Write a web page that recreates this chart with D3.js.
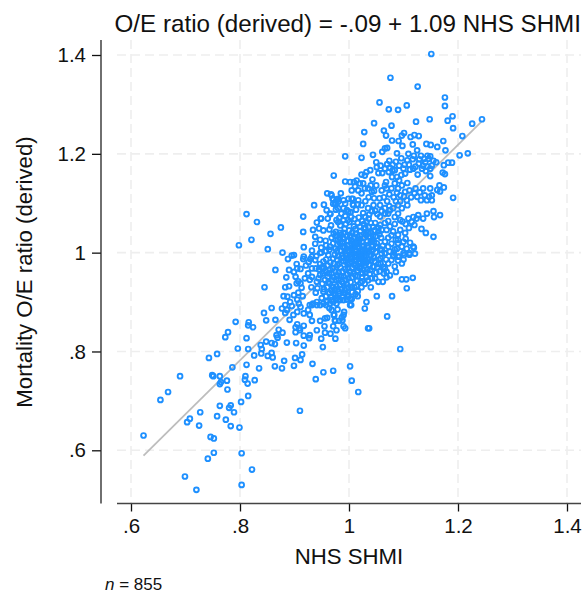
<!DOCTYPE html>
<html>
<head>
<meta charset="utf-8">
<script src="https://cdn.jsdelivr.net/npm/d3@7"></script>
<style>
  html, body { margin: 0; padding: 0; background: #fff; }
  svg { display: block; font-family: "Liberation Sans", Arial, sans-serif; }
</style>
</head>
<body>
<svg id="vis" width="583" height="595"></svg>
<script>
// values: [NHS SHMI, O/E ratio]
const lowTail = [[.623,.63],[.654,.702],[.668,.718],[.690,.750],[.699,.547],[.720,.520],[.703,.657],[.708,.664],[.725,.650],[.727,.677],[.741,.583],[.752,.595],[.746,.627],[.752,.624],[.743,.787],[.758,.795],[.749,.752],[.751,.750],[.763,.750],[.765,.738],[.763,.734],[.776,.741],[.777,.723],[.763,.690],[.758,.669],[.774,.662],[.783,.649],[.780,.686],[.783,.691],[.789,.677],[.799,.646],[.802,.698],[.815,.710],[.803,.594],[.822,.561],[.803,.530],[.786,.768],[.773,.829],[.778,.839],[.792,.860],[.796,.806],[.812,.827],[.815,.805],[.815,.853],[.816,.859],[.824,.849],[.812,.773],[.810,.750],[.809,.743],[.814,.735],[.827,.742],[.835,.766]];

const lowBand = [[.826,.792],[.838,.813],[.840,.805],[.839,.796],[.851,.791],[.858,.797],[.860,.788],[.864,.770],[.877,.766],[.881,.781],[.899,.771],[.901,.787],[.911,.783],[.914,.794],[.933,.775],[.953,.758],[.971,.761],[.939,.744],[.910,.680],[.848,.820],[.858,.817],[.864,.815],[.869,.828],[.871,.844],[.878,.838],[.867,.833],[.886,.818],[.903,.817],[.917,.812],[.927,.827],[.928,.833],[.949,.826],[.952,.809],[.975,.826],[.844,.878],[.848,.863],[.865,.864],[.858,.888],[.891,.864],[.845,.930],[.865,.965],[1.002,.770],[1.005,.741],[1.017,.718],[1.037,.847],[1.094,.805],[1.070,.871],[1.079,.912],[1.051,.912]];

const leftStrays = [[.851,1.007],[.878,1.000],[.798,1.015],[.821,1.026],[.856,1.038],[.875,1.051],[.812,1.078],[.831,1.062],[.916,1.073],[.916,1.042],[.917,1.011],[.934,1.046],[.936,1.096],[.954,1.097],[.960,1.120],[.967,1.118],[.972,1.156],[.941,1.061],[.949,1.069],[.961,1.069],[.966,1.078],[.945,1.049],[.953,1.045],[.964,1.047],[.938,1.032],[.947,1.026],[.957,1.024],[.975,1.097],[.970,1.109],[.978,1.108],[.976,1.087],[.967,1.055],[.977,1.066],[.975,1.034],[.976,1.042],[.985,1.120],[1.032,1.163],[.959,1.086],[.965,1.079],[.948,1.069],[.938,1.018],[.932,1.004],[.947,.999],[.964,1.006],[.975,1.008],[.980,1.062],[.990,1.066],[.986,1.079],[.990,1.090],[.980,1.090],[.975,1.100],[.971,1.108],[.980,1.109],[.990,1.106],[.999,1.109],[1.007,1.109],[1.008,1.096],[.999,1.083]];

const midLeft = [[.895,.994],[.888,.987],[.899,.995],[.917,.992],[.916,.987],[.932,.992],[.929,.987],[.904,.977],[.890,.965],[.899,.961],[.911,.967],[.905,.968],[.885,.950],[.883,.930],[.890,.932],[.902,.951],[.907,.942],[.911,.938],[.904,.938],[.913,.929],[.899,.914],[.915,.912],[.907,.919],[.880,.912],[.887,.911],[.892,.900],[.905,.905],[.883,.894],[.877,.887],[.886,.884],[.883,.878],[.908,.897],[.911,.890],[.895,.892],[.898,.874],[.905,.880],[.917,.877],[.925,.884],[.932,.894],[.941,.900],[.928,.874],[.932,.862],[.905,.855],[.902,.849],[.909,.847],[.917,.852],[.902,.839],[.917,.832],[.910,.843],[.932,.951],[.941,.941],[.931,.930],[.939,.919],[.953,.921],[.919,.948],[.928,.945],[.932,.968],[.939,.968],[.947,.862],[.941,.843],[.955,.851],[.956,.867],[.960,.868],[.971,.851],[.966,.836],[.977,.843],[.956,.838],[.975,.862],[.982,.862],[.928,.894],[.934,.897],[.941,.894],[.947,.894],[.953,.897],[.959,.900],[.965,.897],[.971,.900],[.977,.897],[.984,.904],[.990,.904],[.991,.880],[.987,.869],[.993,.847],[.990,.851],[.972,.874],[1.032,.900],[1.029,.887],[1.035,.847],[1.002,.907],[.997,.914],[1.004,.894],[.996,.927],[1.016,.922],[1.023,.930],[1.029,.937],[1.035,.944],[1.002,.894],[1.005,.906],[.996,.905],[.999,.911],[.990,.874],[.988,.863],[.973,.874],[.974,.863],[.983,.917],[.980,.904],[.979,.885],[.968,.884]];

const midRight = [[1.106,.928],[1.097,.946],[1.105,.946],[1.117,.949],[1.086,.961],[1.075,.954],[1.069,.950],[1.064,.958],[1.062,.941],[1.054,.941],[1.048,.948],[1.042,.948],[1.040,.930],[1.069,.961],[1.063,.971],[1.072,.978],[1.078,.985],[1.097,.978],[1.100,.986],[1.081,.995],[1.092,.992],[1.101,.995],[1.111,.996],[1.121,.998],[1.054,.977],[1.045,.971],[1.039,.965],[1.060,.998],[1.066,.998],[1.045,.992],[1.119,1.010],[1.106,1.008],[1.097,1.012],[1.111,.999],[1.090,1.019],[1.084,1.006],[1.100,.999],[1.090,.992],[1.081,.993],[1.057,1.006],[1.066,.999],[1.075,1.002],[1.133,1.048],[1.141,1.040],[1.155,1.032],[1.094,1.046],[1.103,1.040],[1.081,1.043],[1.069,1.046],[1.075,1.053],[1.057,1.056],[1.054,1.043],[1.057,1.073],[1.066,1.079],[1.078,1.035],[1.090,1.026],[1.100,1.022],[1.118,1.012],[1.066,1.022],[1.060,1.006],[1.088,1.008]];

const upperScatter = [[1.151,1.402],[1.076,1.354],[1.126,1.336],[1.176,1.314],[1.176,1.297],[1.056,1.304],[1.073,1.290],[1.090,1.289],[1.106,1.298],[1.123,1.265],[1.148,1.270],[1.181,1.267],[1.190,1.276],[1.191,1.252],[1.226,1.261],[1.244,1.270],[1.208,1.236],[1.046,1.262],[1.078,1.257],[1.064,1.247],[1.068,1.237],[1.028,1.244],[1.026,1.220],[.993,1.195],[1.023,1.192],[1.044,1.198],[1.061,1.204],[1.066,1.211],[1.070,1.212],[1.079,1.227],[1.091,1.226],[1.098,1.216],[1.097,1.237],[1.101,1.242],[1.113,1.234],[1.120,1.238],[1.128,1.236],[1.117,1.219],[1.142,1.220],[1.150,1.218],[1.162,1.214],[1.173,1.226],[1.177,1.207],[1.203,1.197],[1.218,1.201],[1.182,1.182],[1.189,1.182],[1.174,1.177],[1.125,1.207]];

const upperBand = [[1.088,1.201],[1.109,1.200],[1.119,1.196],[1.096,1.191],[1.107,1.187],[1.129,1.189],[1.117,1.189],[1.149,1.195],[1.146,1.190],[1.140,1.183],[1.136,1.176],[1.155,1.186],[1.160,1.183],[1.152,1.176],[1.149,1.170],[1.122,1.174],[1.118,1.170],[1.141,1.165],[1.149,1.155],[1.126,1.158],[1.172,1.162],[1.176,1.159],[1.074,1.186],[1.070,1.179],[1.075,1.172],[1.050,1.183],[1.051,1.173],[1.039,1.167],[1.054,1.161],[1.061,1.161],[1.023,1.158],[1.029,1.156],[1.073,1.163],[1.084,1.167],[1.100,1.170],[1.103,1.160],[1.096,1.157],[1.088,1.153],[1.079,1.153],[1.043,1.148],[1.068,1.143],[1.107,1.141],[.993,1.144],[1.002,1.143],[1.009,1.143],[1.014,1.146],[1.026,1.140],[1.097,1.136],[1.090,1.130],[1.103,1.123],[1.088,1.121],[1.094,1.116],[1.066,1.136],[1.060,1.126],[1.069,1.130],[1.042,1.123],[1.029,1.130],[1.017,1.126],[1.023,1.120],[1.011,1.134],[1.005,1.126],[1.035,1.130],[1.046,1.125],[1.122,1.130],[1.136,1.130],[1.149,1.130],[1.166,1.136],[1.162,1.127],[1.174,1.132],[1.167,1.124],[1.125,1.113],[1.132,1.106],[1.139,1.116],[1.147,1.113],[1.152,1.116],[1.143,1.106],[1.152,1.106],[1.191,1.111],[1.111,1.126],[1.101,1.113]];

const upperCore = [[1.106,1.106],[1.090,1.096],[1.097,1.090],[1.107,1.096],[1.090,1.079],[1.081,1.090],[1.072,1.079],[1.075,1.086],[1.057,1.096],[1.045,1.096],[1.035,1.090],[1.023,1.096],[1.017,1.106],[1.005,1.109],[.993,1.099],[.980,1.103],[.968,1.116],[.977,1.106],[.971,1.099],[1.007,1.098],[1.098,1.063],[1.109,1.069],[1.115,1.062],[1.127,1.076],[1.143,1.079],[1.155,1.084],[1.156,1.072],[1.167,1.076],[1.136,1.069],[1.118,1.072],[1.124,1.069]];

const denseCore = [[.984,1.055],[.992,1.048],[1.001,1.062],[1.009,1.053],[1.018,1.071],[1.027,1.058],[1.036,1.069],[1.044,1.052],[1.012,1.038],[1.021,1.044],[1.031,1.036],[1.040,1.041],[1.049,1.033],[.996,1.033],[1.004,1.026],[.988,1.022],[.979,1.016],[.971,1.019],[.997,1.014],[1.006,1.009],[1.015,1.021],[1.024,1.014],[1.033,1.024],[1.042,1.012],[1.051,1.019],[1.059,1.030],[1.013,1.002],[1.022,.996],[1.031,1.004],[1.040,.994],[1.049,1.001],[.985,1.004],[.994,.997],[1.003,.991],[1.012,.984],[1.021,.978],[1.030,.986],[1.038,.975],[1.047,.982],[.962,.995],[.971,.988],[.980,.993],[.989,.983],[.998,.976],[1.007,.970],[1.016,.964],[1.025,.958],[1.034,.966],[.953,.982],[.961,.974],[.970,.968],[.979,.975],[.988,.962],[.997,.956],[1.006,.950],[1.015,.943],[1.024,.950],[.945,.966],[.952,.958],[.961,.951],[.969,.944],[.978,.954],[.987,.941],[.996,.936],[1.005,.930],[.944,.948],[.951,.937],[.960,.930],[.968,.923],[.977,.932],[.986,.926],[1.003,1.082],[1.013,1.087],[1.026,1.080],[1.037,1.077],[1.048,1.085],[.993,1.074],[.982,1.070],[.972,1.038],[.983,1.040],[.991,1.028],[1.000,1.045],[1.010,1.030],[1.020,1.027],[1.030,1.050],[1.039,1.030],[1.047,1.045],[1.056,1.037],[.978,1.003],[1.001,1.001],[1.010,.992],[1.019,1.010],[1.028,.992],[1.037,1.003],[1.046,.990],[1.055,.985],[.965,1.012],[.958,1.003],[.949,1.010],[.972,.978],[.984,.970],[.993,.967],[1.002,.960],[1.011,.974],[1.020,.968],[1.029,.974],[1.038,.957],[.968,.958],[.976,.945],[.985,.952],[.994,.945],[1.003,.940],[1.012,.954],[1.021,.939],[.954,.969],[.947,.977],[.938,.985],[.962,.940],[.971,.930],[.981,.922],[.992,.925],[1.010,.930],[1.016,.912],[.958,.912],[.967,.910],[.975,.914],[.950,.908],[.942,.928],[.925,.958],[.921,.974],[.926,.981],[.940,.993],[.949,1.000],[.958,1.015],[.968,1.030],[.983,1.030],[.992,1.010],[1.005,1.016],[1.016,1.032],[1.025,1.006],[1.034,1.013],[1.043,1.025],[1.052,1.010],[.996,.988],[1.005,.982],[1.014,.994],[1.023,.987],[1.032,.980],[1.041,.984]];

const solidCore = [[.988,1.012],[.992,1.003],[.996,.994],[1.000,1.005],[1.004,.997],[1.008,1.012],[1.012,1.006],[1.016,.998],[1.020,1.004],[1.024,.992],[1.028,1.000],[1.032,.994],[1.036,1.010],[.990,.990],[.994,.982],[.998,.970],[1.002,.978],[1.006,.988],[1.010,.978],[1.014,.970],[1.018,.982],[1.022,.972],[1.026,.966],[1.030,.960],[.978,.985],[.982,.978],[.986,.990],[.974,.996],[.966,.980],[.958,.986],[.975,.962],[.981,.960],[.990,.952],[.999,.948],[1.008,.958],[.965,.966],[.957,.962],[.963,.958],[.972,.950],[.981,.946],[.990,.938],[.999,.930],[.950,.970],[.947,.955],[.956,.945],[.965,.938],[.974,.926],[.983,.935],[.992,.918],[1.012,1.018],[1.016,1.026],[1.020,1.034],[1.024,1.022],[1.028,1.030],[1.032,1.042],[1.036,1.052],[1.040,1.024],[1.044,1.034],[1.006,1.040],[1.002,1.034],[.998,1.024],[1.008,1.022],[1.012,1.048],[1.016,1.060],[1.020,1.052],[1.024,1.064],[1.028,1.048],[1.032,1.062],[1.036,1.040],[.984,1.018],[.980,1.026],[.976,1.026],[.990,1.040],[.994,1.058],[.998,1.066],[1.004,1.072],[1.010,1.068],[.986,1.036],[1.040,1.060],[1.048,1.060],[1.054,1.050],[1.060,1.046],[1.046,1.022],[1.050,1.012],[1.034,1.000],[1.026,1.012],[1.018,1.018],[1.044,1.006],[1.000,1.016],[1.006,1.002],[1.012,.992],[1.020,.990],[1.028,.980],[1.036,.986],[1.044,.972],[1.052,.970],[1.058,.978],[1.016,.952],[1.024,.942],[1.032,.950],[1.014,.932],[1.006,.920],[1.012,.916],[.968,.904],[.978,.908],[.988,.912],[.972,.918],[.964,.918],[.954,.926],[.958,.894],[.964,.888]];

const upperFill = [[1.132,1.196],[1.138,1.190],[1.144,1.196],[1.128,1.180],[1.134,1.170],[1.144,1.174],[1.110,1.178],[1.112,1.168],[1.102,1.178],[1.092,1.176],[1.086,1.184],[1.080,1.178],[1.080,1.166],[1.066,1.170],[1.058,1.176],[1.092,1.146],[1.084,1.140],[1.078,1.130],[1.074,1.118],[1.082,1.112],[1.094,1.104],[1.086,1.104],[1.064,1.112],[1.070,1.104],[1.056,1.110],[1.046,1.110],[1.036,1.112],[1.030,1.104],[1.050,1.136],[1.040,1.136],[1.020,1.140],[1.120,1.120],[1.130,1.122],[1.114,1.112],[1.074,1.094],[1.066,1.090],[1.060,1.084],[1.052,1.078],[1.084,1.072],[1.094,1.066],[1.104,1.058],[1.110,1.050],[1.120,1.056],[1.084,1.058],[1.072,1.064],[1.066,1.060],[1.090,1.036],[1.104,1.028],[1.112,1.020],[1.072,1.030],[1.078,1.018],[1.086,1.026],[1.062,1.014],[1.072,1.012],[1.082,1.000],[1.068,.986],[1.058,.988],[1.090,.984],[1.056,.962],[1.050,.960],[1.066,.968],[1.084,.972],[.996,1.086],[1.016,1.098],[1.030,1.072],[1.042,1.084]];

const regIntercept = -.09;
const regSlope = 1.09;
const fitRange = [.623, 1.244];
const xTicks = [.6, .8, 1, 1.2, 1.4];
const yTicks = [.6, .8, 1, 1.2, 1.4];
const titleText = "O/E ratio (derived) = -.09 + 1.09 NHS SHMI";

const svg = d3.select('#vis');
const points = [].concat(lowTail, lowBand, leftStrays, midLeft, midRight, upperScatter, upperBand, upperCore, denseCore, solidCore, upperFill);

const x = d3.scaleLinear().domain([.6, 1.4]).range([131, 567]);
const y = d3.scaleLinear().domain([.6, 1.4]).range([450.3, 55]);

const plotTop = 40, plotBottom = 503.5, plotLeft = 117, plotRight = 581, yAxisX = 101;

// strip the leading zero the way Stata prints it
function tickText(v) {
    return String(v).replace(/^0\./, '.');
}

// grid
svg.append('g').selectAll('line').data(yTicks).enter().append('line')
    .attr('x1', plotLeft).attr('x2', plotRight)
    .attr('y1', d => y(d)).attr('y2', d => y(d))
    .attr('stroke', '#eeeeee').attr('stroke-width', 1.6).attr('stroke-dasharray', '9,5');
svg.append('g').selectAll('line').data(xTicks).enter().append('line')
    .attr('x1', d => x(d)).attr('x2', d => x(d))
    .attr('y1', plotTop).attr('y2', plotBottom)
    .attr('stroke', '#eeeeee').attr('stroke-width', 1.6).attr('stroke-dasharray', '9,5');

// fit line
svg.append('line')
    .attr('x1', x(fitRange[0])).attr('y1', y(regIntercept + regSlope * fitRange[0]))
    .attr('x2', x(fitRange[1])).attr('y2', y(regIntercept + regSlope * fitRange[1]))
    .attr('stroke', '#bdbdbd').attr('stroke-width', 1.8);

// points
svg.append('g').selectAll('circle').data(points).enter().append('circle')
    .attr('cx', d => x(d[0]))
    .attr('cy', d => y(d[1]))
    .attr('r', 2.4)
    .attr('fill', 'none')
    .attr('stroke', '#1e90ff')
    .attr('stroke-width', 1.9);

// axes
const xAxis = svg.append('g')
    .attr('transform', 'translate(0,' + plotBottom + ')')
    .call(d3.axisBottom(x).tickValues(xTicks).tickFormat(tickText).tickSize(8).tickPadding(7));
const yAxis = svg.append('g')
    .attr('transform', 'translate(' + yAxisX + ',0)')
    .call(d3.axisLeft(y).tickValues(yTicks).tickFormat(tickText).tickSize(9).tickPadding(6));

xAxis.select('.domain').remove();
yAxis.select('.domain').remove();
xAxis.selectAll('line').attr('stroke', '#111').attr('stroke-width', 1.3);
yAxis.selectAll('line').attr('stroke', '#111').attr('stroke-width', 1.3);
xAxis.selectAll('text').attr('font-size', 20.5).attr('font-family', null).attr('fill', '#111');
yAxis.selectAll('text').attr('font-size', 20.5).attr('font-family', null).attr('fill', '#111');

svg.append('line')
    .attr('x1', plotLeft).attr('x2', plotRight)
    .attr('y1', plotBottom).attr('y2', plotBottom)
    .attr('stroke', '#444').attr('stroke-width', 1.5);
svg.append('line')
    .attr('x1', yAxisX).attr('x2', yAxisX)
    .attr('y1', plotTop).attr('y2', plotBottom)
    .attr('stroke', '#222').attr('stroke-width', 1.3);

// labels
svg.append('text')
    .attr('x', 581).attr('y', 32)
    .attr('text-anchor', 'end')
    .attr('font-size', 24.2).attr('fill', '#111')
    .text(titleText);
svg.append('text')
    .attr('x', 349).attr('y', 564)
    .attr('text-anchor', 'middle')
    .attr('font-size', 22.2).attr('fill', '#111')
    .text('NHS SHMI');
svg.append('text')
    .attr('transform', 'translate(32,272) rotate(-90)')
    .attr('text-anchor', 'middle')
    .attr('font-size', 22.2).attr('fill', '#111')
    .text('Mortality O/E ratio (derived)');

const note = svg.append('text')
    .attr('x', 105).attr('y', 590)
    .attr('font-size', 17).attr('fill', '#111');
note.append('tspan').attr('font-style', 'italic').text('n');
note.append('tspan').text(' = 855');
</script>
</body>
</html>
